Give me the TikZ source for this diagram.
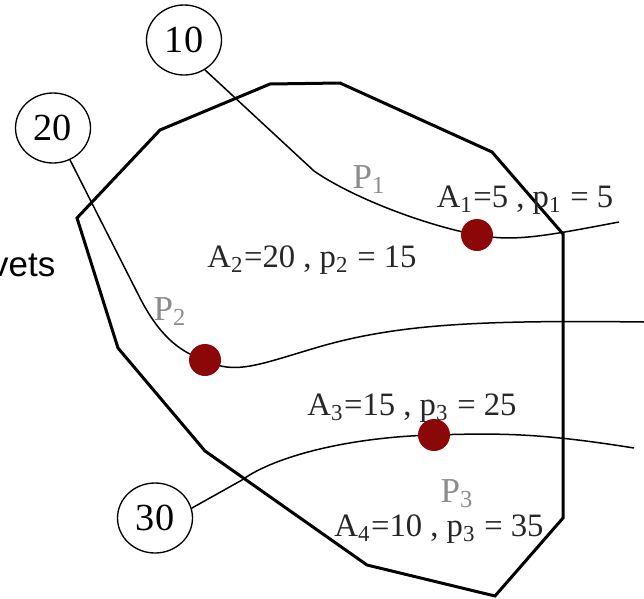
\documentclass[tikz,border=0pt]{standalone}
\usepackage{fontspec}
\setmainfont{Liberation Serif}
\setsansfont{Liberation Sans}
\usetikzlibrary{shapes.geometric}
\definecolor{dotred}{RGB}{140,8,8}
\tikzset{
  tag/.style={ellipse, draw=black, line width=0.4pt, minimum width=22.5pt, minimum height=21pt,
              inner sep=0pt, font=\fontsize{11.5}{12}\selectfont},
  dot/.style={circle, fill=dotred, minimum size=9.6pt, inner sep=0pt},
  lbl/.style={font=\fontsize{9.8}{10}\selectfont, text=black!85, inner sep=0pt, anchor=base},
  plab/.style={font=\fontsize{10.5}{12}\selectfont, text=black!45, inner sep=0pt, anchor=base west},
  border/.style={line width=0.9pt, line join=miter},
  route/.style={line width=0.45pt},
}
\begin{document}
\begin{tikzpicture}[x=0.3pt, y=-0.3pt]
\useasboundingbox (0,0) rectangle (644,599);
% region outline
\draw[border] (77,218) -- (160,130) -- (270,84) -- (340,83) -- (492,152) -- (563,234)
  -- (563,518) -- (495,596) -- (367,565) -- (205,451) -- (118,348) -- cycle;
% tags and points
\node[tag] (c10) at (184,40) {10};
\node[tag] (c20) at (53,128) {20};
\node[tag] (c30) at (155,518) {30};
\coordinate (e1) at (619,222);
\coordinate (e2) at (644,322);
\coordinate (e3) at (634,448);
% routes
\draw[route] (c10.-55) -- (314,171) .. controls (350,196) and (420,224) .. (477,235)
  .. controls (515,242) and (545,236) .. (e1);
\draw[route] (c20.-62) -- (140,298) .. controls (158,333) and (178,352) .. (205,360)
  .. controls (235,376) and (260,364) .. (322,346) .. controls (400,324) and (480,320) .. (e2);
\draw[route] (c30.15) -- (242,480) .. controls (275,456) and (350,437) .. (434,435)
  .. controls (500,433) and (540,433) .. (e3);
\node[dot] (d1) at (477,235) {};
\node[dot] (d2) at (205,360) {};
\node[dot] (d3) at (434,435) {};
% labels
\node[plab] (p1) at (352,188) {P\textsubscript{1}};
\node[plab] (p2) at (153,320) {P\textsubscript{2}};
\node[plab] (p3) at (440,502) {P\textsubscript{3}};
\node[lbl] (a1) at (525,207) {A\textsubscript{1}=5 , p\textsubscript{1} = 5};
\node[lbl] (a2) at (312,267) {A\textsubscript{2}=20 , p\textsubscript{2} = 15};
\node[lbl] (a3) at (412,415) {A\textsubscript{3}=15 , p\textsubscript{3} = 25};
\node[lbl] (a4) at (439,536) {A\textsubscript{4}=10 , p\textsubscript{3} = 35};
\node[font=\sffamily\fontsize{10.5}{12}\selectfont, inner sep=0pt, anchor=base east] (side) at (56,276) {vets};
\end{tikzpicture}
\end{document}
